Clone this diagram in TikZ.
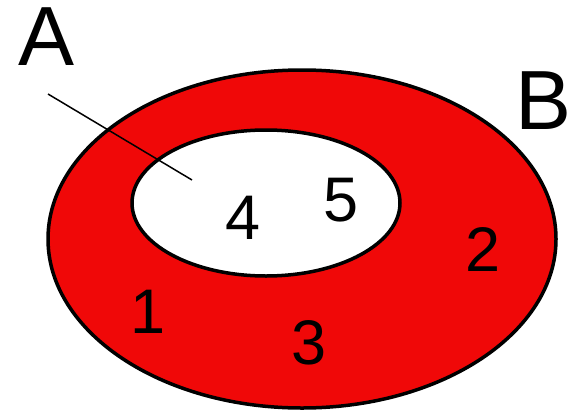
\documentclass[tikz,border=0pt]{standalone}
\usepackage{fontspec}
\setmainfont{Liberation Sans}
\definecolor{ringred}{RGB}{240,8,8}
\tikzset{
  letter/.style={inner sep=0pt,font=\fontsize{84}{84}\selectfont},
  digit/.style={inner sep=0pt,font=\fontsize{63}{63}\selectfont},
  rim/.style={line width=3.5pt}
}
\begin{document}
\begin{tikzpicture}[x=1pt,y=-1pt]
        \useasboundingbox (0,0) rectangle (577,412);
        \fill[ringred,even odd rule] (302,239) ellipse [x radius=254pt,y radius=169pt]
            (266,203) ellipse [x radius=134pt,y radius=73pt];
        \draw[rim] (302,239) ellipse [x radius=254pt,y radius=169pt];
        \draw[rim] (266,203) ellipse [x radius=134pt,y radius=73pt];
        \node[letter] (A) at (47,37) {A};
        \node[letter] (B) at (544,101) {B};
        \node[digit] (n1) at (148,312) {1};
        \node[digit] (n2) at (483,250) {2};
        \node[digit] (n3) at (309,343) {3};
        \node[digit] (n4) at (243,218) {4};
        \node[digit] (n5) at (341,200) {5};
        \coordinate (a1) at (48,94);
        \coordinate (a2) at (192,180);
        \draw[line width=1.5pt] (a1) to (a2);
    \end{tikzpicture}
\end{document}
